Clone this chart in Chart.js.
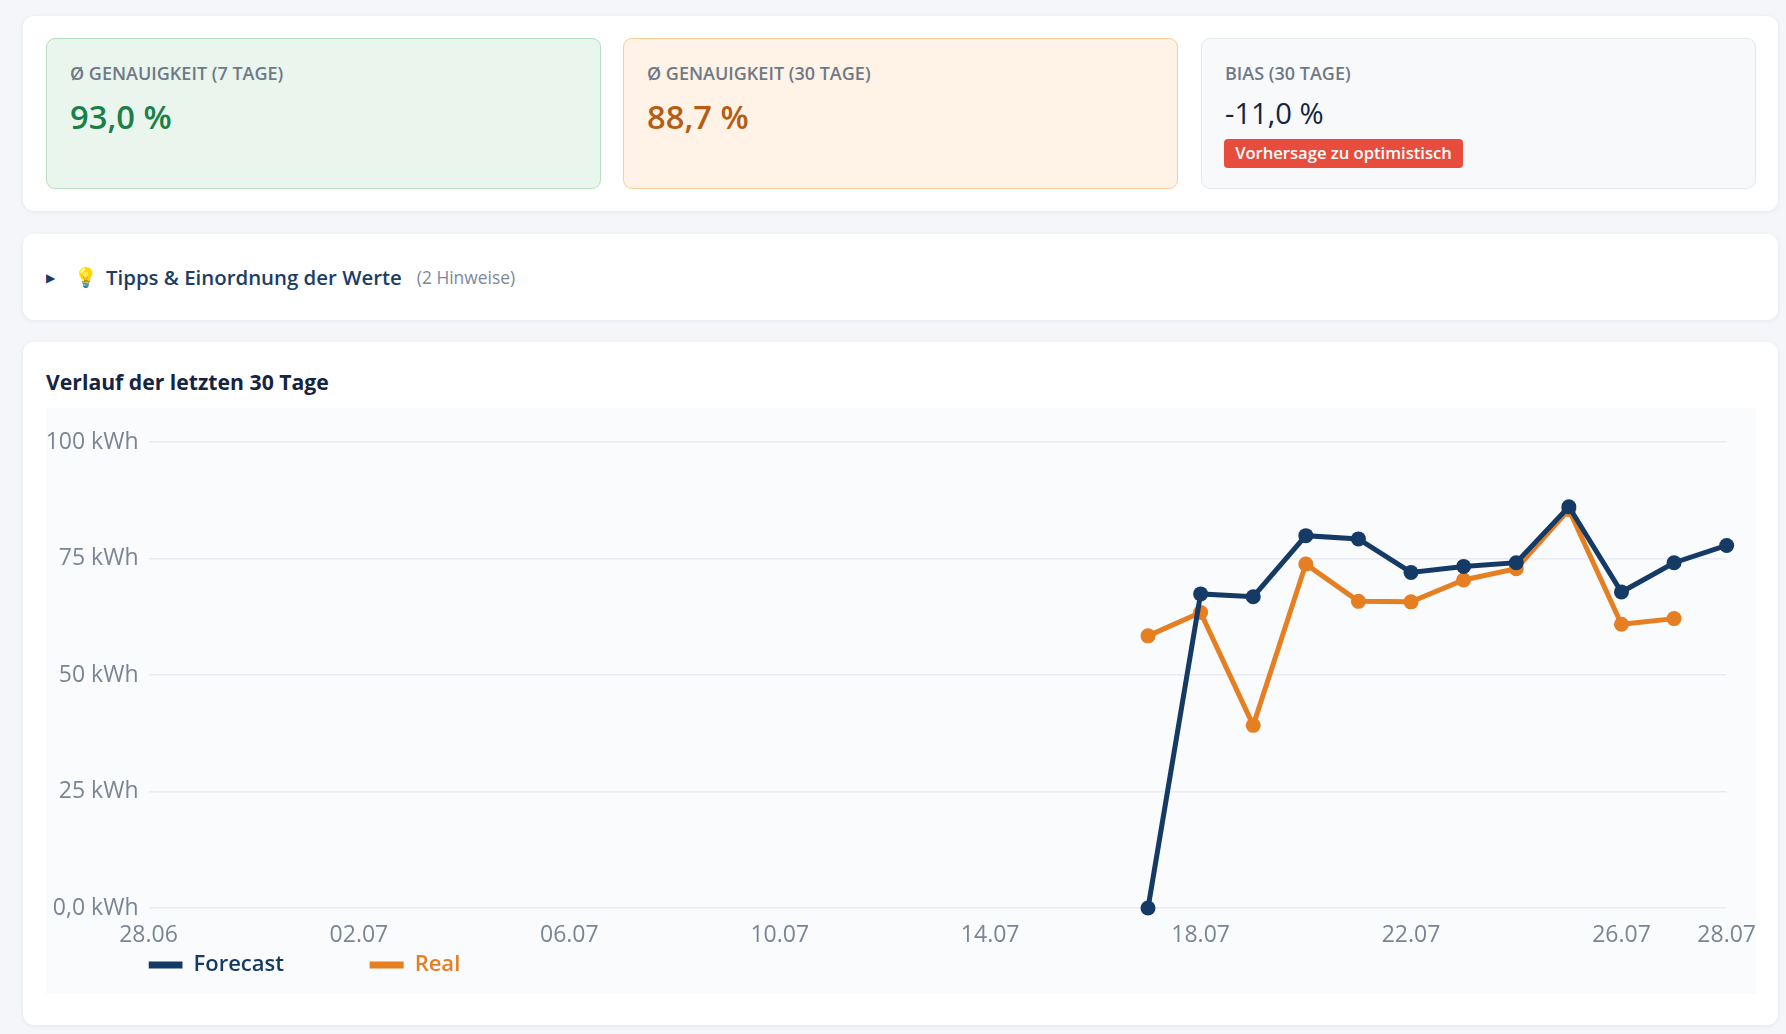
<!DOCTYPE html>
<html lang="de">
<head>
<meta charset="utf-8">
<title>Forecast Genauigkeit</title>
<script src="https://cdn.jsdelivr.net/npm/chart.js@4"></script>
<style>
  * { box-sizing: border-box; }
  body { margin: 0; background: #f4f6fa; font-family: 'Open Sans', 'Noto Sans', sans-serif; width: 1786px; height: 1034px; overflow: hidden; position: relative; }
  .card { position: absolute; left: 23px; width: 1755px; background: #fff; border-radius: 11px; box-shadow: 0 1px 4px rgba(30, 50, 90, 0.08); }
  .tile { position: absolute; top: 22px; width: 555px; height: 151px; border-radius: 9px; border: 1px solid; padding: 23px 23px; }
  .tile .label { font-size: 18px; font-weight: 600; color: #6f7987; line-height: 22px; }
  .tile .value { font-size: 32.7px; font-weight: 600; line-height: 44px; margin-top: 11px; }
  .green { left: 23px; background: #eaf5ed; border-color: #b5e0c0; }
  .green .value { color: #1a8048; }
  .orange { left: 600px; background: #fef3e6; border-color: #f8cf9b; }
  .orange .value { color: #b45d13; }
  .grey { left: 1178px; background: #f8f9fb; border-color: #e5e8ef; }
  .grey .value { color: #16243f; font-size: 29.2px; font-weight: 400; line-height: 40px; margin-top: 9px; }
  .badge { display: inline-block; position: absolute; left: 22px; top: 100px; width: 239px; height: 29px; line-height: 28px; text-align: center; background: #e74c3c; color: #fff; border-radius: 4px; font-size: 16.6px; font-weight: 600; }
  .tips { position: absolute; top: 0; left: 23px; height: 86px; display: flex; align-items: center; white-space: nowrap; }
  .tips .arrow { font-size: 12px; color: #163a66; width: 28px; }
  .tips .bulb { font-size: 19px; width: 32px; }
  .tips .head { font-size: 20.4px; font-weight: 600; color: #1c3d66; }
  .tips .count { font-size: 17.4px; color: #7f8896; margin-left: 15px; }
  h2 { position: absolute; left: 23px; top: 24px; margin: 0; font-size: 21.2px; font-weight: 700; color: #16243f; line-height: 32px; }
  .plot { position: absolute; left: 23px; top: 66px; width: 1710px; height: 586px; background: #fafbfd; }
  canvas { display: block; }
</style>
</head>
<body>
<div class="card" style="top:16px;height:195px">
  <div class="tile green"><div class="label">Ø GENAUIGKEIT (7 TAGE)</div><div class="value">93,0 %</div></div>
  <div class="tile orange"><div class="label">Ø GENAUIGKEIT (30 TAGE)</div><div class="value">88,7 %</div></div>
  <div class="tile grey"><div class="label">BIAS (30 TAGE)</div><div class="value">-11,0 %</div><span class="badge">Vorhersage zu optimistisch</span></div>
</div>
<div class="card" style="top:234px;height:86px">
  <div class="tips"><span class="arrow">▶</span><span class="bulb">💡</span><span class="head">Tipps &amp; Einordnung der Werte</span><span class="count">(2 Hinweise)</span></div>
</div>
<div class="card" style="top:342px;height:683px">
  <h2>Verlauf der letzten 30 Tage</h2>
  <div class="plot"><canvas id="verlauf"></canvas></div>
</div>
<script>
const days = ['28.06','29.06','30.06','01.07','02.07','03.07','04.07','05.07','06.07','07.07','08.07',
  '09.07','10.07','11.07','12.07','13.07','14.07','15.07','16.07','17.07','18.07','19.07','20.07',
  '21.07','22.07','23.07','24.07','25.07','26.07','27.07','28.07'];
const forecast = [null,null,null,null,null,null,null,null,null,null,null,null,null,null,null,null,null,null,null,
  0,67.4,66.8,79.9,79.2,72.0,73.3,74.1,86.1,67.8,74.1,77.8];
const real = [null,null,null,null,null,null,null,null,null,null,null,null,null,null,null,null,null,null,null,
  58.4,63.4,39.2,73.8,65.8,65.7,70.4,72.8,85.5,60.9,62.1,null];

const tickColor = '#7a8594';
const chartFont = "'Open Sans', 'Noto Sans', sans-serif";

new Chart(document.getElementById('verlauf'), {
  type: 'line',
  data: {
    labels: days,
    datasets: [
      { label: 'Forecast', data: forecast, borderColor: '#163a66', backgroundColor: '#163a66', borderWidth: 5, pointRadius: 7.5, pointBorderWidth: 0, tension: 0, clip: false },
      { label: 'Real', data: real, borderColor: '#e67e22', backgroundColor: '#e67e22', borderWidth: 5, pointRadius: 7.5, pointBorderWidth: 0, tension: 0, clip: false }
    ]
  },
  options: {
    responsive: true,
    maintainAspectRatio: false,
    animation: false,
    layout: { padding: { top: 34, left: 0, right: 0, bottom: 8 } },
    scales: {
      x: {
        // tickLength stands in for ticks.padding, which would also eat into the right margin
        grid: { display: false, tickLength: 14 },
        border: { display: false },
        afterFit: (scale) => { scale.height = 46; },
        ticks: {
          color: tickColor, font: { family: chartFont, size: 23 }, padding: 0,
          autoSkip: false, maxRotation: 0,
          // every 4th day, plus the last one
          callback: function(value, index) {
            return (index % 4 === 0 || index === days.length - 1) ? days[index] : null;
          }
        }
      },
      y: {
        min: 0, max: 100,
        grid: { color: '#e8ebf1', lineWidth: 1.5, drawTicks: false },
        border: { display: false },
        afterFit: (scale) => { scale.width = 102.5; },
        ticks: {
          color: tickColor, font: { family: chartFont, size: 23 }, padding: 10, stepSize: 25,
          callback: (value) => value === 0 ? '0,0 kWh' : value + ' kWh'
        }
      }
    },
    plugins: {
      tooltip: { enabled: false },
      legend: {
        position: 'bottom',
        align: 'start',
        fullSize: false,
        labels: {
          boxWidth: 34, boxHeight: 7, padding: 0,
          font: { family: chartFont, size: 22, weight: '600' },
          generateLabels: (chart) => Chart.defaults.plugins.legend.labels.generateLabels(chart).map((item, i) => ({
            ...item,
            // trailing spaces widen the gap between the two legend entries
            text: i === 0 ? item.text + '               ' : item.text,
            fontColor: item.strokeStyle,
            lineWidth: 0
          }))
        }
      }
    }
  }
});
</script>
</body>
</html>
